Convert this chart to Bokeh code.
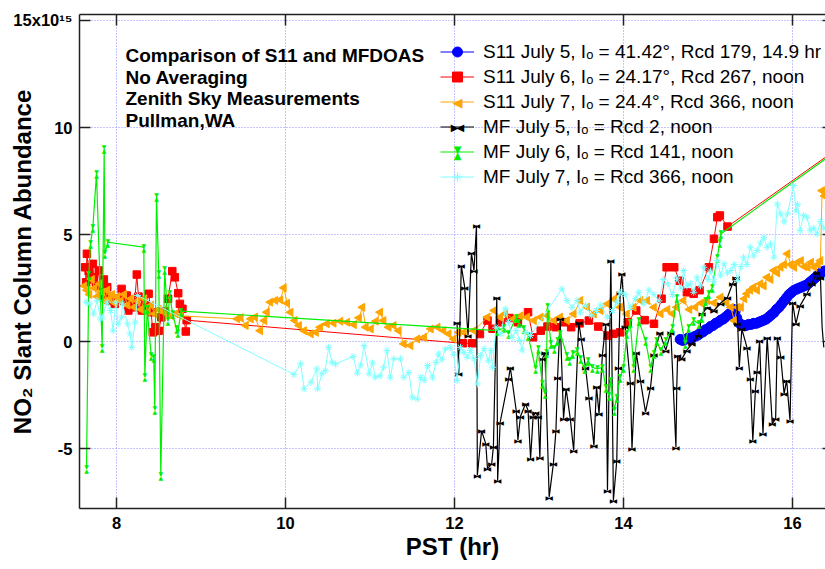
import math
from bokeh.plotting import figure
from bokeh.models import Range1d, LinearAxis, FixedTicker, Legend, LegendItem, Label
from bokeh.core.properties import value
from bokeh.embed import file_html
from bokeh.resources import INLINE

# ---------------- data (time PST hr, NO2 SCD in 1e15) ----------------
x_ticks = [8, 10, 12, 14, 16]
y_ticks = [-5, 0, 5, 10, 15]
x_tick_labels = {8: "8", 10: "10", 12: "12", 14: "14", 16: "16"}
y_tick_labels = {-5: "-5", 0: "0", 5: "5", 10: "10", 15: "15x10\u00b9\u2075"}

s11_jul5 = [(14.67, 0.10), (14.70, 0.05), (14.73, 0.10), (14.76, 0.15), (14.79, 0.10), (14.82, 0.20),
            (14.85, 0.25), (14.88, 0.30), (14.91, 0.40), (14.94, 0.45), (14.97, 0.55), (15.00, 0.60),
            (15.03, 0.70), (15.06, 0.75), (15.09, 0.85), (15.12, 0.90), (15.15, 1.00), (15.18, 1.05),
            (15.21, 1.15), (15.24, 1.25), (15.27, 1.35), (15.30, 1.50), (15.32, 1.40), (15.34, 1.10),
            (15.36, 0.90), (15.39, 0.80), (15.42, 0.75), (15.45, 0.75), (15.48, 0.80), (15.51, 0.80),
            (15.54, 0.85), (15.57, 0.85), (15.60, 0.90), (15.63, 0.95), (15.66, 1.00), (15.69, 1.05),
            (15.72, 1.15), (15.75, 1.25), (15.78, 1.35), (15.81, 1.50), (15.84, 1.60), (15.87, 1.75),
            (15.90, 1.90), (15.93, 2.05), (15.96, 2.20), (15.99, 2.30), (16.02, 2.40), (16.05, 2.45),
            (16.08, 2.50), (16.11, 2.55), (16.14, 2.60), (16.17, 2.65), (16.20, 2.75), (16.23, 2.85),
            (16.26, 2.95), (16.29, 3.05), (16.32, 3.15), (16.35, 3.25), (16.38, 3.30)]

s11_jul6 = [(7.63, 3.47), (7.64, 2.77), (7.65, 4.10), (7.67, 3.30), (7.70, 2.90), (7.72, 3.63),
            (7.73, 3.00), (7.76, 2.60), (7.79, 3.32), (7.80, 2.60), (7.82, 2.10), (7.85, 2.90),
            (7.89, 2.54), (7.90, 2.10), (7.94, 1.90), (7.98, 1.76), (8.02, 2.00), (8.06, 2.46),
            (8.09, 1.90), (8.12, 2.15), (8.14, 1.45), (8.18, 1.76), (8.21, 1.60), (8.24, 3.13),
            (8.26, 2.10), (8.30, 1.45), (8.34, 1.70), (8.38, 2.23), (8.41, 1.37), (8.43, 0.43),
            (8.46, 0.67), (8.50, 0.50), (8.53, 1.13), (8.57, 1.40), (8.61, 2.00), (8.66, 3.29),
            (8.69, 3.00), (8.73, 2.26), (8.75, 1.76), (8.78, 1.53), (8.82, 0.47), (8.83, 1.00),
            (12.10, -0.08), (12.21, -0.08), (12.30, 0.35), (12.39, 0.98), (12.45, 0.60), (12.55, 0.90),
            (12.65, 1.10), (12.75, 0.90), (12.87, 1.37), (12.93, 0.20), (13.02, 0.51), (13.10, 0.70),
            (13.20, 0.67), (13.30, 0.90), (13.38, 0.67), (13.48, 0.85), (13.59, 0.98), (13.70, 0.70),
            (13.81, 0.28), (13.88, 0.36), (13.96, 0.43), (14.05, 0.90), (14.15, 1.45), (14.25, 1.00),
            (14.36, 0.83), (14.45, 2.00), (14.51, 3.47), (14.60, 3.47), (14.66, 2.84), (14.75, 2.30),
            (14.83, 2.23), (14.90, 2.40), (15.01, 3.47), (15.07, 4.80), (15.11, 5.81), (15.14, 5.89),
            (15.23, 5.37), (16.50, 8.92)]

s11_jul7 = [(7.62, 2.60), (7.65, 2.40), (7.68, 2.20), (7.71, 2.90), (7.74, 2.50), (7.77, 2.10),
            (7.80, 2.70), (7.83, 2.30), (7.86, 1.90), (7.89, 2.40), (7.92, 2.00), (7.95, 2.20),
            (7.98, 1.80), (8.01, 2.10), (8.05, 1.90), (8.09, 2.20), (8.13, 1.70), (8.17, 2.00),
            (8.21, 1.60), (8.25, 1.90), (8.29, 1.50), (8.33, 2.00), (8.37, 1.40), (8.41, 1.70),
            (8.45, 1.30), (8.50, 1.50), (8.55, 1.40), (8.60, 1.30), (8.65, 1.20), (8.70, 1.30),
            (8.76, 1.20),
            (9.43, 1.06), (9.47, 1.11), (9.53, 0.75), (9.59, 1.06), (9.64, 1.14), (9.70, 0.51),
            (9.75, 0.98), (9.78, 1.37), (9.82, 1.84), (9.88, 1.92), (9.94, 1.95), (9.98, 2.51),
            (10.02, 1.79), (10.06, 1.37), (10.11, 0.98), (10.16, 0.75), (10.22, 0.51), (10.30, 0.36),
            (10.36, 0.43), (10.41, 0.67), (10.49, 0.83), (10.57, 0.86), (10.65, 0.95), (10.73, 0.90),
            (10.81, 0.79), (10.87, 1.11), (10.91, 1.60), (10.95, 0.67), (11.01, 0.59), (11.07, 0.95),
            (11.12, 1.37), (11.16, 0.98), (11.22, 0.67), (11.28, 0.75), (11.34, 0.51), (11.40, -0.11),
            (11.48, -0.19), (11.56, 0.12), (11.64, 0.20), (11.72, 0.59), (11.80, 0.67), (11.87, 0.51),
            (11.93, 0.36), (11.99, 0.12),
            (12.05, 0.43), (12.11, 0.43), (12.23, 0.51), (12.39, 1.14), (12.47, 1.45), (12.54, 1.14),
            (12.60, 1.30), (12.70, 1.06), (12.78, 1.20), (12.86, 1.14), (12.94, 0.98), (13.02, 1.14),
            (13.10, 1.22), (13.18, 0.98), (13.25, 1.14), (13.33, 0.98), (13.41, 1.29), (13.49, 1.92),
            (13.57, 1.60), (13.65, 1.29), (13.73, 1.45), (13.81, 1.76), (13.89, 1.99), (13.96, 1.60),
            (14.04, 1.29), (14.12, 1.60), (14.20, 1.92), (14.28, 1.92), (14.36, 1.60), (14.44, 1.30),
            (14.52, 1.50), (14.58, 1.30), (14.63, 1.60), (14.71, 1.92), (14.78, 1.50), (14.85, 1.60),
            (14.92, 1.80), (14.99, 1.92), (15.07, 1.80), (15.15, 2.07), (15.22, 1.80), (15.27, 1.60),
            (15.31, 0.98), (15.35, 1.60), (15.39, 1.60), (15.43, 2.00), (15.46, 2.23), (15.50, 2.40),
            (15.54, 2.54), (15.58, 2.40), (15.62, 2.70), (15.66, 2.60), (15.70, 3.00), (15.74, 2.90),
            (15.78, 3.32), (15.82, 3.20), (15.86, 3.47), (15.90, 3.60), (15.94, 4.10), (15.98, 3.60),
            (16.02, 3.47), (16.06, 3.70), (16.10, 3.78), (16.14, 3.50), (16.18, 3.47), (16.22, 3.70),
            (16.26, 3.47), (16.30, 3.60), (16.33, 3.78), (16.35, 7.05), (16.38, 6.80)]

mf_jul5 = [(12.03, 0.90), (12.05, -1.51), (12.08, 3.55), (12.12, 2.54), (12.16, 0.28), (12.20, 4.14),
           (12.23, 3.32), (12.26, 5.42), (12.27, -6.26), (12.32, -4.16), (12.37, -4.78), (12.39, -5.95),
           (12.44, -5.71), (12.46, -4.90), (12.50, 2.07), (12.51, -6.50), (12.54, -3.77), (12.64, -1.74),
           (12.66, -1.20), (12.73, -3.22), (12.75, -4.60), (12.78, -3.50), (12.84, -2.91), (12.87, -3.22),
           (12.90, -5.48), (12.93, -3.50), (12.96, -3.30), (12.99, -3.50), (13.01, -5.44), (13.04, -0.81),
           (13.07, -0.50), (13.12, -7.27), (13.17, -5.70), (13.20, -4.16), (13.22, -1.67), (13.25, 1.06),
           (13.29, -3.61), (13.32, -2.20), (13.37, -3.61), (13.41, -5.09), (13.47, 0.90), (13.50, 0.12),
           (13.55, -1.20), (13.59, -2.60), (13.65, -4.86), (13.68, -2.10), (13.71, -3.38), (13.75, -0.60),
           (13.79, 0.83), (13.81, -6.96), (13.85, 3.79), (13.88, -7.43), (13.92, -5.56), (13.94, -1.20),
           (13.96, 2.30), (13.98, 3.16), (14.02, 0.70), (14.08, -1.90), (14.10, -5.02), (14.15, -0.50),
           (14.20, -1.82), (14.26, -3.30), (14.32, -2.13), (14.36, -0.60), (14.43, 0.40), (14.50, -0.40),
           (14.56, 0.43), (14.62, -4.94), (14.63, -2.13), (14.64, -0.65), (14.69, -0.81), (14.75, -0.40),
           (14.81, -0.11), (14.89, 0.30), (14.93, 1.29), (14.99, 1.60), (15.07, 1.45), (15.15, 1.80),
           (15.23, 2.07), (15.29, 2.70), (15.33, 3.00), (15.35, 0.83), (15.37, -1.20), (15.40, 0.59),
           (15.46, -0.27), (15.50, -1.74), (15.53, -4.63), (15.56, -2.29), (15.58, -1.40), (15.61, 0.05),
           (15.65, -4.31), (15.70, 0.20), (15.76, -3.85), (15.80, -3.60), (15.82, 0.20), (15.86, -0.70),
           (15.90, -2.44), (15.93, -1.80), (15.97, -3.69), (16.00, 1.84), (16.04, 0.83), (16.09, 1.68),
           (16.17, 2.23), (16.23, 2.70), (16.29, 3.24), (16.33, 3.00), (16.35, 0.67), (16.37, -0.27)]

mf_jul6 = [(7.645, -5.92), (7.672, 3.13), (7.692, 4.56), (7.72, 5.34), (7.763, 7.84), (7.83, -0.27),
           (7.854, 9.00), (7.862, 4.10), (7.897, 4.64), (8.323, 4.41), (8.335, -1.64), (8.363, 1.53),
           (8.41, -0.65), (8.44, -0.73), (8.453, -3.16), (8.473, 6.78), (8.50, 3.16), (8.524, -6.28),
           (8.57, 3.36), (8.607, 0.98), (8.63, 2.23), (8.663, 1.29), (8.71, 0.59), (8.725, 0.43),
           (8.765, 1.42),
           (12.505, 0.51), (12.58, 0.64), (12.64, 0.36), (12.73, 1.14), (12.76, 0.90), (12.82, 0.59),
           (12.87, 0.28), (12.96, -1.28), (12.99, -0.34), (13.04, -1.98), (13.07, -2.44), (13.09, -0.50),
           (13.10, 1.64), (13.14, -0.11), (13.18, -0.34), (13.22, 0.05), (13.25, 0.39), (13.33, -0.65),
           (13.36, -0.89), (13.40, -0.57), (13.45, -0.42), (13.49, -0.81), (13.54, -1.28), (13.58, -0.89),
           (13.63, -1.20), (13.69, -1.28), (13.75, -1.20), (13.79, -2.13), (13.83, -2.52), (13.85, -1.82),
           (13.89, -3.22), (13.92, -2.60), (13.96, -1.67), (14.00, -1.20), (14.04, 0.36), (14.08, 0.90),
           (14.12, -1.20), (14.18, 0.98), (14.26, 0.05), (14.32, -1.20), (14.36, -0.58), (14.39, 0.05),
           (14.44, -0.42), (14.50, 0.05), (14.58, 0.67), (14.63, 2.07), (14.73, -0.11), (14.77, 0.67),
           (14.83, 0.98), (14.89, 0.83), (14.93, 1.14), (14.97, 1.92), (15.01, 2.23), (15.05, 2.54),
           (15.11, 3.94), (15.14, 4.64), (15.15, 5.03), (16.50, 8.85)]

mf_jul7 = [(7.64, 1.84), (7.68, 1.76), (7.73, 1.29), (7.77, 1.92), (7.81, 1.06), (7.83, 1.14),
           (7.89, 1.84), (7.93, 1.45), (7.96, 0.51), (7.99, 1.84), (8.02, 0.83), (8.06, 1.14),
           (8.07, 1.76), (8.13, 0.83), (8.16, 0.36), (8.18, -0.27), (8.22, 0.90), (8.25, 2.15),
           (10.10, -1.54), (10.18, -1.04), (10.22, -2.21), (10.30, -1.90), (10.37, -1.28), (10.38, -2.21),
           (10.43, -1.51), (10.47, -1.36), (10.51, -0.27), (10.55, -0.97), (10.59, -1.05), (10.80, -0.70),
           (10.85, -1.48), (10.89, -1.10), (10.93, -0.19), (10.99, -1.51), (11.03, -1.00), (11.06, -1.67),
           (11.12, -1.60), (11.16, -1.20), (11.20, -0.42), (11.24, -1.67), (11.28, -0.81), (11.36, -0.81),
           (11.40, -1.67), (11.46, -1.45), (11.50, -2.60), (11.56, -2.68), (11.60, -1.67), (11.64, -1.80),
           (11.68, -1.12), (11.74, -1.67), (11.78, -0.97), (11.81, -0.58), (11.85, -0.85), (11.89, -0.34),
           (11.95, -0.27), (11.99, -0.60),
           (12.03, -1.82), (12.07, -0.27), (12.11, -0.50), (12.15, -0.73), (12.19, -0.42), (12.23, -0.80),
           (12.27, -1.98), (12.31, -0.65), (12.35, -0.34), (12.40, -0.90), (12.43, -0.42), (12.45, -1.20),
           (12.49, 0.67), (12.55, 0.36), (12.60, 1.53), (12.64, 0.90), (12.68, 0.20), (12.73, 0.51),
           (12.77, 0.05), (12.80, -0.40), (12.84, 0.43), (12.90, 0.28), (13.27, 2.46), (13.33, 1.92),
           (13.39, 1.60), (13.45, 1.92), (13.49, 1.37), (13.55, 1.70), (13.62, 1.20), (13.68, 1.45),
           (13.73, 1.70), (13.81, 1.14), (13.87, 1.45), (13.92, 1.84), (13.96, 2.30), (14.02, 2.20),
           (14.08, 1.60), (14.14, 2.00), (14.18, 2.30), (14.24, 1.76), (14.30, 2.40), (14.36, 2.20),
           (14.42, 1.90), (14.47, 2.90), (14.52, 2.70), (14.58, 2.20), (14.63, 2.96), (14.68, 2.50),
           (14.71, 3.32), (14.75, 2.60), (14.79, 2.70), (14.83, 2.30), (14.87, 3.00), (14.91, 2.60),
           (14.95, 3.47), (15.00, 2.90), (15.03, 3.30), (15.07, 2.80), (15.11, 3.78), (15.15, 3.10),
           (15.19, 3.63), (15.23, 3.20), (15.27, 3.32), (15.31, 3.60), (15.35, 2.85), (15.39, 3.50),
           (15.42, 3.94), (15.46, 3.60), (15.50, 4.41), (15.54, 4.00), (15.58, 4.25), (15.62, 4.60),
           (15.66, 4.87), (15.70, 4.40), (15.74, 4.56), (15.78, 3.94), (15.82, 6.43), (15.86, 5.97),
           (15.90, 5.60), (15.94, 5.97), (16.01, 7.29), (16.04, 6.10), (16.06, 6.40), (16.09, 5.19),
           (16.13, 5.90), (16.17, 5.80), (16.21, 5.20), (16.25, 5.30), (16.29, 5.03), (16.33, 5.60),
           (16.37, 5.30)]

labels = ["S11 July 5, I\u2092 = 41.42\u00b0, Rcd 179, 14.9 hr",
          "S11 July 6, I\u2092 = 24.17\u00b0, Rcd 267, noon",
          "S11 July 7, I\u2092 = 24.4\u00b0, Rcd 366, noon",
          "MF July 5, I\u2092 = Rcd 2, noon",
          "MF July 6, I\u2092 = Rcd 141, noon",
          "MF July 7, I\u2092 = Rcd 366, noon"]

notes = ["Comparison of S11 and MFDOAS", "No Averaging", "Zenith Sky Measurements", "Pullman,WA"]

X_START, X_END = 7.562, 16.39

# ---------------- figure ----------------
FONT = "Liberation Sans"
p = figure(width=825, height=569, output_backend="svg", toolbar_location=None,
           x_range=Range1d(X_START, X_END), y_range=Range1d(-7.80, 15.28),
           min_border_left=79, min_border_right=0, min_border_top=14, min_border_bottom=61,
           x_axis_label="PST (hr)", y_axis_label="NO\u2082 Slant Column Abundance")
p.outline_line_color = None
p.background_fill_color = "white"

AX_COLOR = "#222222"
for ax in (p.xaxis[0], p.yaxis[0]):
    ax.axis_line_color = AX_COLOR
    ax.axis_line_width = 1.5
    ax.major_tick_line_color = AX_COLOR
    ax.major_tick_line_width = 1.5
    ax.major_tick_in = 11
    ax.major_tick_out = 0
    ax.minor_tick_line_color = None
    ax.major_label_text_font = FONT
    ax.major_label_text_font_style = "bold"
    ax.major_label_text_font_size = "16.5px"
    ax.major_label_text_color = "black"
    ax.axis_label_text_font = FONT
    ax.axis_label_text_font_style = "bold"
    ax.axis_label_text_font_size = "24px"
    ax.axis_label_text_color = "black"

p.xaxis[0].ticker = FixedTicker(ticks=x_ticks)
p.yaxis[0].ticker = FixedTicker(ticks=y_ticks)
p.xaxis[0].major_label_overrides = x_tick_labels
p.yaxis[0].major_label_overrides = y_tick_labels
p.xaxis[0].major_label_standoff = 8
p.xaxis[0].axis_label_standoff = 1
p.yaxis[0].major_label_standoff = 7
p.yaxis[0].axis_label_standoff = -26

top_ax = LinearAxis(ticker=FixedTicker(ticks=x_ticks), major_label_text_font_size="0px",
                    major_label_standoff=0, axis_line_color=AX_COLOR, axis_line_width=1.5,
                    major_tick_line_color=AX_COLOR, major_tick_line_width=1.5,
                    major_tick_in=11, major_tick_out=0, minor_tick_line_color=None)
p.add_layout(top_ax, "above")
right_ax = LinearAxis(ticker=FixedTicker(ticks=y_ticks), major_label_text_font_size="0px",
                      major_label_standoff=0, axis_line_color=None,
                      major_tick_line_color=AX_COLOR, major_tick_line_width=1.5,
                      major_tick_in=3, major_tick_out=0, minor_tick_line_color=None)
p.add_layout(right_ax, "right")

for g in (p.xgrid[0], p.ygrid[0]):
    g.grid_line_color = "#8080ff"
    g.grid_line_alpha = 0.9
    g.grid_line_dash = "1 2"
    g.grid_line_width = 1
p.xgrid[0].ticker = FixedTicker(ticks=x_ticks)
p.ygrid[0].ticker = FixedTicker(ticks=y_ticks)


def split(series):
    return [a for a, _ in series], [b for _, b in series]


def inside(series):
    # marker glyphs only for points whose symbol lies fully inside the frame
    return [(a, b) for a, b in series if a < X_END - 0.045]


items = []
TRI = "DejaVu Sans"
TRI_FONT = value(TRI)

# S11 July 5 - blue circles
t, v = split(s11_jul5)
l1 = p.line(t, v, line_color="#0000ff", line_width=1)
m1 = p.scatter(t, v, marker="circle", size=10, fill_color="#0000ff", line_color="#0000ff")
items.append(LegendItem(label=labels[0], renderers=[l1, m1]))

# S11 July 6 - red squares
t, v = split(s11_jul6)
l2 = p.line(t, v, line_color="#ff0000", line_width=1)
m2 = p.scatter(t, v, marker="square", size=7.5, fill_color="#ff0000", line_color="#ff0000")
items.append(LegendItem(label=labels[1], renderers=[l2, m2]))

# S11 July 7 - orange left triangles
t, v = split(s11_jul7)
l3 = p.line(t, v, line_color="#ffa500", line_width=1)
p.scatter(t, v, marker="triangle", angle=math.pi / 2, size=8,
          fill_color="#ffa500", line_color="#ffa500")
items.append(LegendItem(label=labels[2], renderers=[l3]))

# MF July 5 - black bowties
t, v = split(mf_jul5)
l4 = p.line(t, v, line_color="black", line_width=1.2)
ti, vi = split(inside(mf_jul5))
p.text(ti, vi, text=value("\u25b6"), text_align="right", text_baseline="middle", x_offset=1,
       text_font=TRI_FONT, text_font_size="6px", text_color="black")
p.text(ti, vi, text=value("\u25c0"), text_align="left", text_baseline="middle", x_offset=-1,
       text_font=TRI_FONT, text_font_size="6px", text_color="black")
items.append(LegendItem(label=labels[3], renderers=[l4]))

# MF July 6 - green hourglasses
t, v = split(mf_jul6)
l5 = p.line(t, v, line_color="#00ee00", line_width=1.2)
ti, vi = split(inside(mf_jul6))
p.text(ti, vi, text=value("\u25bc"), text_align="center", text_baseline="middle", y_offset=-2,
       text_font=TRI_FONT, text_font_size="6px", text_color="#00ee00")
p.text(ti, vi, text=value("\u25b2"), text_align="center", text_baseline="middle", y_offset=2,
       text_font=TRI_FONT, text_font_size="6px", text_color="#00ee00")
items.append(LegendItem(label=labels[4], renderers=[l5]))

# MF July 7 - cyan asterisks
t, v = split(mf_jul7)
l6 = p.line(t, v, line_color="#80ffff", line_width=1)
m6 = p.scatter(t, v, marker="asterisk", size=7, line_color="#80ffff", line_width=1)
items.append(LegendItem(label=labels[5], renderers=[l6, m6]))

legend = Legend(items=items, location=(361, 319), orientation="vertical",
                padding=0, margin=0, spacing=0, glyph_width=34, glyph_height=25,
                label_height=25, label_standoff=9, border_line_color=None,
                background_fill_alpha=0, label_text_font=FONT, label_text_font_size="19px",
                label_text_color="black")
p.add_layout(legend)

# legend markers that the legend cannot draw itself (screen units relative to the frame)
lx = 378
p.add_layout(Label(x=lx, y=406.5, x_units="screen", y_units="screen", text="\u25c0",
                   text_align="center", text_baseline="middle", text_font=TRI,
                   text_font_size="13px", text_color="#ffa500"))
p.add_layout(Label(x=lx + 1, y=381.5, x_units="screen", y_units="screen", text="\u25b6",
                   text_align="right", text_baseline="middle", text_font=TRI,
                   text_font_size="10px", text_color="black"))
p.add_layout(Label(x=lx - 1, y=381.5, x_units="screen", y_units="screen", text="\u25c0",
                   text_align="left", text_baseline="middle", text_font=TRI,
                   text_font_size="10px", text_color="black"))
p.add_layout(Label(x=lx, y=359.5, x_units="screen", y_units="screen", text="\u25bc",
                   text_align="center", text_baseline="middle", text_font=TRI,
                   text_font_size="10px", text_color="#00ee00"))
p.add_layout(Label(x=lx, y=353.5, x_units="screen", y_units="screen", text="\u25b2",
                   text_align="center", text_baseline="middle", text_font=TRI,
                   text_font_size="10px", text_color="#00ee00"))

# annotation block
for i, s in enumerate(notes):
    p.add_layout(Label(x=46, y=453 - i * 21.6, x_units="screen", y_units="screen", text=s,
                       text_align="left", text_baseline="alphabetic", text_font=FONT,
                       text_font_style="bold", text_font_size="19px", text_color="black"))

open("out.html", "w").write(file_html(p, INLINE))
